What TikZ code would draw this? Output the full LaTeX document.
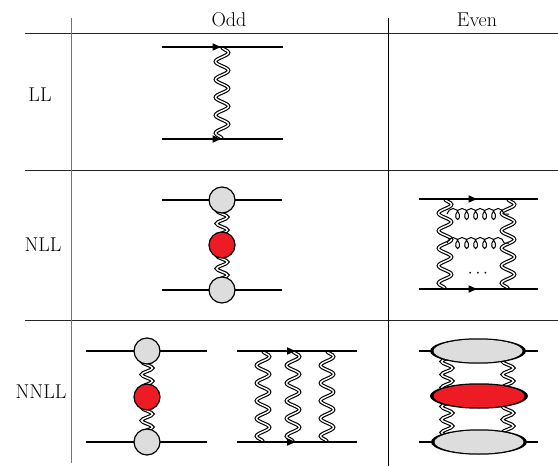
\documentclass[tikz,border=0pt]{standalone}
\usetikzlibrary{decorations.pathmorphing,decorations.markings,arrows.meta,shapes.geometric}
\definecolor{blobgray}{HTML}{DDDDDD}
\definecolor{blobred}{HTML}{ED1C24}
\begin{document}
\begin{tikzpicture}[x=1pt,y=-1pt,
  tabline/.style={line width=0.8pt, black!85},
  lab/.style={font=\fontsize{20}{24}\selectfont, inner sep=0pt},
  fermion/.style={line width=1.6pt},
  fermarrow/.style={line width=1.6pt, postaction={decorate},
    decoration={markings, mark=at position 0.5 with {\arrow{Latex[length=10pt,width=8pt]}}}},
  photon/.style={double=white, double distance=1.4pt, line width=1.15pt, decorate,
    decoration={snake, amplitude=6.5pt, segment length=#1}},
  photon/.default=17.9pt,
  sphoton/.style={double=white, double distance=1.4pt, line width=1.15pt, decorate,
    decoration={snake, amplitude=5.5pt, segment length=13pt}},
  gluon/.style={line width=1pt, decorate,
    decoration={coil, amplitude=5.5pt, segment length=9pt, aspect=0.7}},
  gblob/.style={circle, draw, line width=1.2pt, fill=blobgray, minimum size=26pt, inner sep=0pt},
  rblob/.style={circle, draw, line width=1.2pt, fill=blobred, minimum size=26pt, inner sep=0pt},
  eouter/.style={ellipse, fill=black, minimum width=96pt, minimum height=25.5pt, inner sep=0pt},
  einner/.style={ellipse, minimum width=89pt, minimum height=23pt, inner sep=0pt},
]
\useasboundingbox (0,0) rectangle (558,466);
% table
\draw[tabline] (25,33) -- (558,33);
\draw[tabline] (25,170) -- (558,170);
\draw[tabline] (25,320) -- (558,320);
\draw[line width=0.8pt, black!55] (71,18) -- (71,463);
\draw[line width=0.8pt, black] (388,18) -- (388,466);
% headers
\node[lab, anchor=base] (hodd) at (229,26.5) {Odd};
\node[lab, anchor=base] (heven) at (477,26.5) {Even};
\node[lab] (rll) at (40,95) {LL};
\node[lab] (rnll) at (43,245) {NLL};
\node[lab] (rnnll) at (41,392) {NNLL};
% LL odd
\coordinate (a1) at (162,47); \coordinate (a2) at (283,47);
\coordinate (a3) at (162,139); \coordinate (a4) at (283,139);
\coordinate (a5) at (222,47); \coordinate (a6) at (222,139);
\draw[photon=17.9pt] (a5) -- (a6);
\draw[fermarrow] (a1) -- (a2);
\draw[fermarrow] (a3) -- (a4);
% NLL odd
\coordinate (b1) at (162,200); \coordinate (b2) at (282,200);
\coordinate (b3) at (162,290); \coordinate (b4) at (282,290);
\draw[fermion] (b1) -- (b2);
\draw[fermion] (b3) -- (b4);
\coordinate (bc1) at (222,200); \coordinate (bc2) at (222,245); \coordinate (bc3) at (222,290);
\draw[sphoton] (bc1) -- (bc2);
\draw[sphoton] (bc2) -- (bc3);
\node[gblob] (bb1) at (bc1) {};
\node[rblob] (bb2) at (bc2) {};
\node[gblob] (bb3) at (bc3) {};
% NLL even
\coordinate (e1) at (419,199); \coordinate (e2) at (538,199);
\coordinate (e3) at (419,289); \coordinate (e4) at (538,289);
\coordinate (ep1) at (445,199); \coordinate (ep2) at (445,289);
\coordinate (ep3) at (508,199); \coordinate (ep4) at (508,289);
\draw[photon=17.5pt] (ep1) -- (ep2);
\draw[photon=17.5pt] (ep3) -- (ep4);
\coordinate (g1) at (447,214); \coordinate (g2) at (509,214);
\coordinate (g3) at (447,243); \coordinate (g4) at (509,243);
\draw[gluon] (g1) -- (g2);
\draw[gluon] (g3) -- (g4);
\draw[fermarrow] (e1) -- (e2);
\draw[fermarrow] (e3) -- (e4);
\node[font=\fontsize{17}{20}\selectfont, inner sep=0pt] (dots) at (478,274) {$\cdots$};
% NNLL odd left
\coordinate (c1) at (86,351); \coordinate (c2) at (207,351);
\coordinate (c3) at (86,442); \coordinate (c4) at (207,442);
\draw[fermion] (c1) -- (c2);
\draw[fermion] (c3) -- (c4);
\coordinate (cc1) at (147,351); \coordinate (cc2) at (147,397); \coordinate (cc3) at (147,442);
\draw[sphoton] (cc1) -- (cc2);
\draw[sphoton] (cc2) -- (cc3);
\node[gblob] (cb1) at (cc1) {};
\node[rblob] (cb2) at (cc2) {};
\node[gblob] (cb3) at (cc3) {};
% NNLL odd right
\coordinate (d1) at (237,351); \coordinate (d2) at (357,351);
\coordinate (d3) at (237,442); \coordinate (d4) at (357,442);
\foreach \x/\n in {263/1,293/2,327/3} {
  \coordinate (dt\n) at (\x,351); \coordinate (db\n) at (\x,442);
  \draw[photon=17.7pt] (dt\n) -- (db\n);
}
\draw[fermarrow] (d1) -- (d2);
\draw[fermarrow] (d3) -- (d4);
% NNLL even
\coordinate (f1) at (419,351); \coordinate (f2) at (538,351);
\coordinate (f3) at (419,442); \coordinate (f4) at (538,442);
\draw[fermion] (f1) -- (f2);
\draw[fermion] (f3) -- (f4);
\coordinate (fp1) at (447,351); \coordinate (fp2) at (447,396); \coordinate (fp3) at (447,442);
\coordinate (fq1) at (508,351); \coordinate (fq2) at (508,396); \coordinate (fq3) at (508,442);
\draw[sphoton] (fp1) -- (fp2);
\draw[sphoton] (fp2) -- (fp3);
\draw[sphoton] (fq1) -- (fq2);
\draw[sphoton] (fq2) -- (fq3);
\node[eouter] (eo1) at (478,351) {};
\node[einner, fill=blobgray] (ei1) at (eo1) {};
\node[eouter, minimum width=98pt] (eo2) at (479,396) {};
\node[einner, fill=blobred, minimum width=91pt] (ei2) at (eo2) {};
\node[eouter] (eo3) at (479,442) {};
\node[einner, fill=blobgray] (ei3) at (eo3) {};
\end{tikzpicture}
\end{document}
